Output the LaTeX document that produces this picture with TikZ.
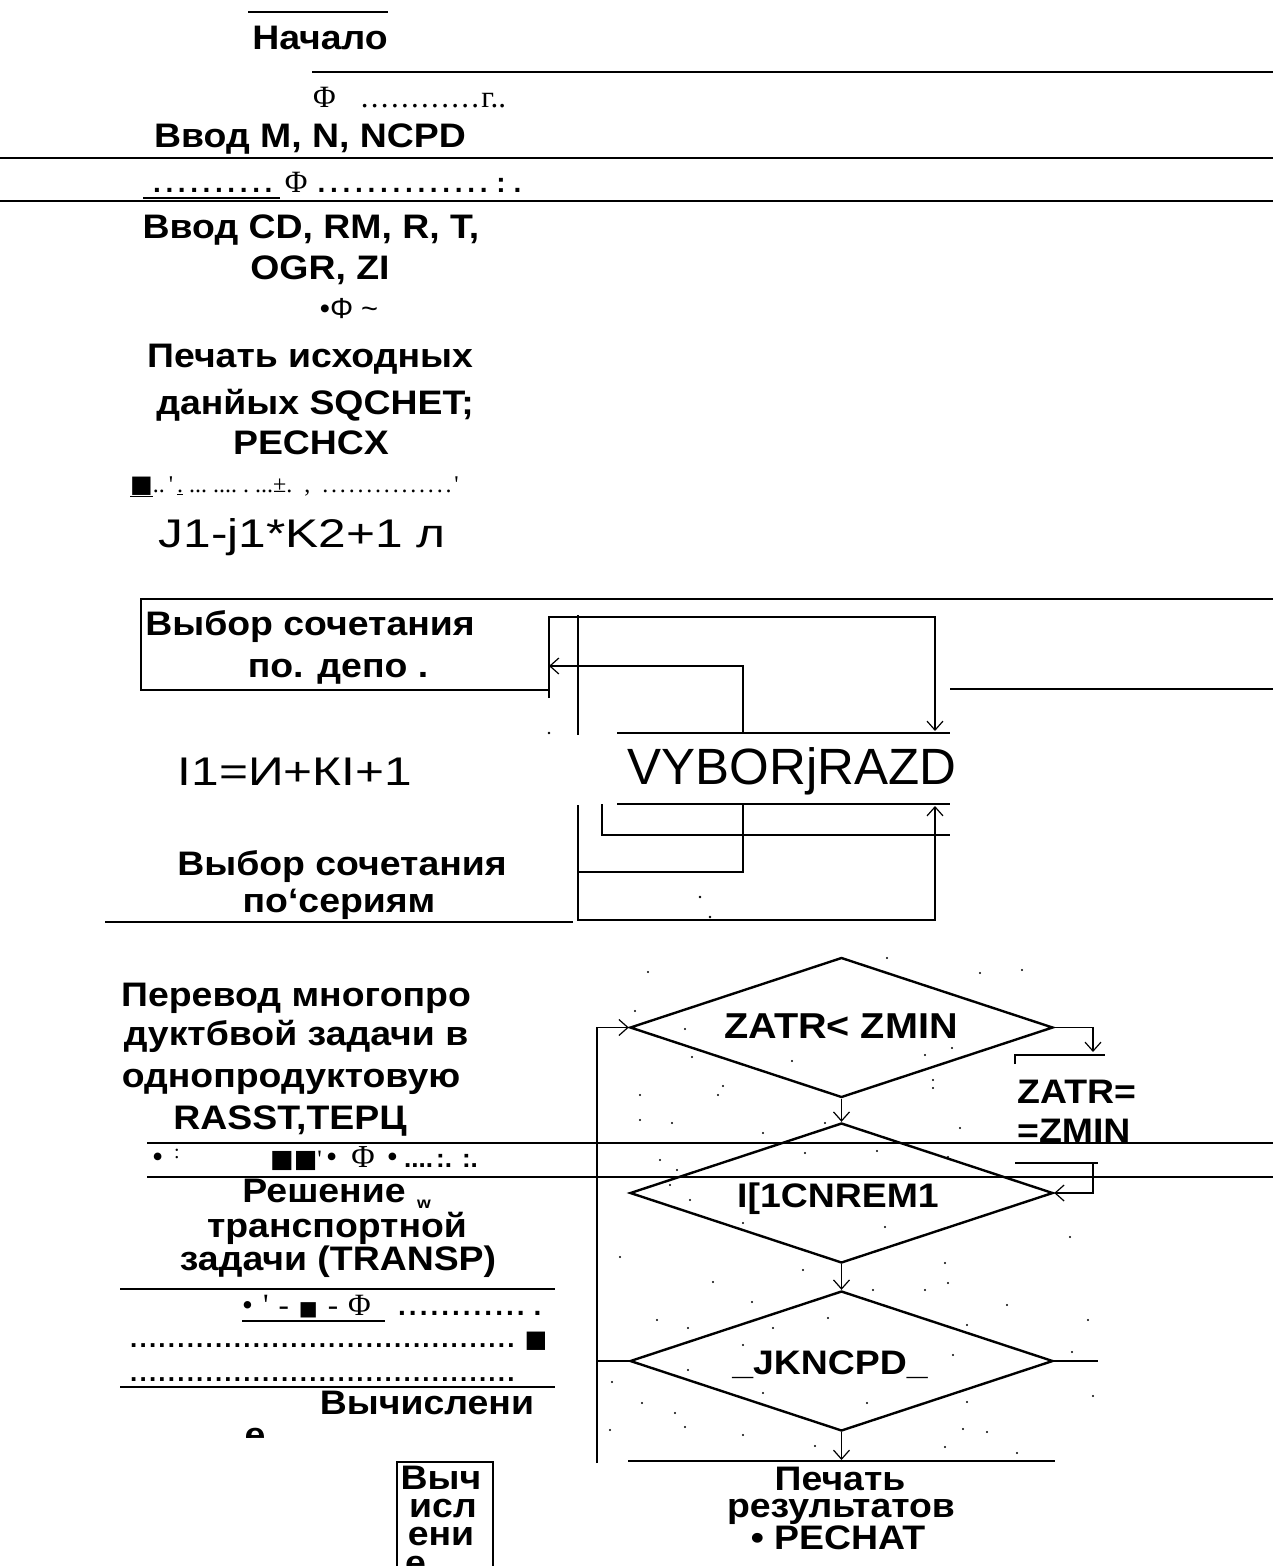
\documentclass[tikz,border=0pt]{standalone}
\usepackage{fontspec}
\setmainfont{Liberation Sans}
\newfontfamily\FntB[FakeStretch=1.1]{Liberation Sans}
\newfontfamily\FntR[FakeStretch=1.24]{Liberation Sans}
\newfontfamily\FntN{Liberation Sans}
\newfontfamily\FntS{Liberation Serif}
\newfontfamily\FntD{DejaVu Sans}
\usetikzlibrary{arrows.meta,shapes.geometric}
\newcommand\Fsz[1]{\fontsize{#1}{#1}\selectfont}
\ExplSyntaxOn
\NewDocumentCommand\DT{mm}{\prg_replicate:nn{#1}{.\kern#2}}
\ExplSyntaxOff
\newcommand\SQ{{\FntD ■}}
\tikzset{
  bt/.style={anchor=base,inner sep=0pt,font=\FntB\bfseries\Fsz{#1},yshift={-0.358*#1}},
  bt/.default=34,
  rt/.style={anchor=base,inner sep=0pt,font=\FntR\Fsz{#1},yshift={-0.358*#1}},
  nt/.style={anchor=base,inner sep=0pt,font=\FntN\Fsz{#1},yshift={-0.358*#1}},
  lt/.style={anchor=base west,inner sep=0pt,font=\FntN\bfseries\Fsz{#1}},
  st/.style={anchor=base west,inner sep=0pt,font=\FntS\Fsz{#1}},
  ln/.style={line width=2.6pt},
  bx/.style={line width=2pt},
  sl/.style={line width=1.3pt},
  arr/.style={sl,-{Straight Barb[length=9pt,width=16pt,line width=1.2pt]}},
  dia/.style={diamond,draw,line width=2.4pt,inner sep=0pt,minimum width=423pt,minimum height=140pt}
}
\begin{document}
\begin{tikzpicture}[x=1pt,y=-1pt]
\fill[white] (0,0) rectangle (1273,1566);
\useasboundingbox (0,0) rectangle (1273,1566);

% ---------- top part ----------
\draw[ln] (248,12) -- (388,12);
\node[bt] (nach) at (320,37) {Начало};
\draw[ln] (312,72) -- (1273,72);
\node[st=31] (f1) at (313,107) {Φ\hspace{25pt}\DT{12}{2.3pt}г..};
\node[bt] (vv1) at (310,135) {Ввод M, N, NCPD};
\draw[ln] (0,158) -- (1273,158);
\node[lt=28] (f2) at (153,192) {\DT{10}{4.6pt}\hspace{8pt}{\FntS\mdseries\Fsz{31}Φ}\hspace{10pt}\DT{14}{4.7pt}\hspace{4pt}:\hspace{8pt}.};
\draw[ln] (143,198) -- (280,198);
\draw[ln] (0,201) -- (1273,201);
\node[bt] (vv2) at (311,226) {Ввод CD, RM, R, T,};
\node[bt] (vv3) at (320,267) {OGR, ZI};
\node[nt=29] (f3) at (349,308) {•Φ {\char"7E}};
\node[bt] (pc1) at (310,355) {Печать исходных};
\node[bt] (pc2) at (315,402) {данйых SQCHET;};
\node[bt] (pc3) at (311,442) {PECHCX};
\node[st=24] (f4) at (130,492) {\underline{\SQ}..\,'\,\underline{.}\ ...\ ....\ .\ ...±.\ \ ,\ \ \DT{15}{2.8pt}'};
\node[rt=40] (jj) at (302,533) {J1-j1*K2+1 л};

% ---------- box "po depo" ----------
\draw[bx] (1273,599) -- (141,599) -- (141,690) -- (549,690);
\node[bt] (vb1) at (310,623) {Выбор сочетания};
\node[bt] (vb2) at (338,665.5) {по. депо .};
\draw[ln] (950,689) -- (1273,689);

% ---------- scanned VYBOR block ----------
\draw[arr] (549,698) -- (549,617) -- (935,617) -- (935,731);
\fill (549,733) circle (1.3);
\draw[arr] (743,733) -- (743,666) -- (549,666);
\draw[sl] (578,615) -- (578,735);
\draw[arr] (578,805) -- (578,920) -- (935,920) -- (935,806);
\draw[sl] (602,804) -- (602,835) -- (950,835);
\draw[sl] (743,804) -- (743,872) -- (578,872);
\draw[ln] (617,733) -- (950,733);
\draw[sl] (617,804) -- (950,804);
\node[nt=51] (vyb) at (792,766.5) {VYBORjRAZD};
\fill (700,897) circle (1.3);
\fill (710,917) circle (1.3);

\node[rt=40] (ii) at (295,771.5) {I1=И+КI+1};
\node[bt] (vs1) at (342,863) {Выбор сочетания};
\node[bt] (vs2) at (339,900.5) {по‘сериям};
\draw[ln] (105,922) -- (573,922);

% ---------- left lower block ----------
\node[bt] (pr1) at (296,994) {Перевод многопро};
\node[bt] (pr2) at (296,1033.5) {дуктбвой задачи в};
\node[bt] (pr3) at (291,1075.5) {однопродуктовую};
\node[bt] (pr4) at (290,1117.5) {RASST,ТЕРЦ};
\draw[ln] (147,1143) -- (1273,1143);
\node[st=32] (g1) at (152,1167) {•};
\node[st=20] (g2) at (174,1158) {:};
\node[st=25] (g3) at (270,1167) {\SQ\SQ'};
\node[st=32] (g4) at (326,1167) {•\hspace{14pt}Φ\hspace{12pt}•};
\node[lt=26] (g5) at (404,1167) {....\hspace{3pt}:.\hspace{10pt}:.};
\draw[ln] (147,1177) -- (1273,1177);
\node[bt] (rs1) at (324,1190.5) {Решение};
\node[anchor=base west,inner sep=0pt,font=\FntB\bfseries\Fsz{16}] (rsw) at (417,1208) {w};
\node[bt] (rs2) at (337,1225.5) {транспортной};
\node[bt] (rs3) at (338,1258.5) {задачи (TRANSP)};
\draw[ln] (120,1289) -- (555,1289);
\node[st=31] (h1) at (242,1315) {•\hspace{10pt}'\hspace{10pt}-\hspace{10pt}{\FntD\Fsz{20}■}\hspace{10pt}-\hspace{10pt}Φ};
\draw[bx] (242,1321) -- (385,1321);
\node[lt=28] (h2) at (398,1315) {\DT{12}{3pt}\hspace{6pt}.};
\node[lt=26] (k1) at (130,1347) {\DT{41}{2.2pt}\hspace{8pt}{\FntD\Fsz{24}■}};
\node[lt=26] (k2) at (130,1381) {\DT{41}{2.2pt}};
\draw[ln] (120,1387) -- (555,1387);
\node[bt] (vc) at (427,1402) {Вычислени};
\begin{scope}
  \clip (220,1420) rectangle (300,1437);
  \node[bt] (vce) at (255,1434) {е};
\end{scope}
\draw[bx] (397,1570) -- (397,1462) -- (493,1462) -- (493,1570);
\node[bt] (bx1) at (441,1477) {Выч};
\node[bt] (bx2) at (443,1505.5) {исл};
\node[bt] (bx3) at (441,1533.5) {ени};
\begin{scope}
  \clip (397,1462) rectangle (493,1566);
  \node[anchor=base west,inner sep=0pt,font=\FntB\bfseries\Fsz{34}] (bx4) at (405,1574) {е};
\end{scope}

% ---------- diamonds ----------
\node[dia] (d1) at (841.5,1027.5) {};
\node[dia] (d2) at (841.5,1193) {};
\node[dia] (d3) at (841.5,1361) {};
\node[bt=36] (t1) at (841,1026) {ZATR< ZMIN};
\node[bt] (t2) at (838,1195) {I[1CNREM1};
\node[bt] (t3) at (830,1362) {\_JKNCPD\_};
\node[anchor=base west,inner sep=0pt,font=\FntB\bfseries\Fsz{34}] (z1) at (1017,1103) {ZATR=};
\node[anchor=base west,inner sep=0pt,font=\FntB\bfseries\Fsz{34}] (z2) at (1017,1142) {=ZMIN};

\coordinate (lb) at (597,1463);
\draw[arr] (lb) |- (d1.west);
\draw[sl] (d3.west) -- (lb |- d3.west);
\coordinate (r3) at (1098,1361);
\draw[sl] (d3.east) -- (r3);
\coordinate (ra) at (1093,1052);
\draw[arr] (d1.east) -| (ra);
\draw[ln] (1015,1064) -- (1015,1055) -- (1105,1055);
\draw[ln] (1015,1163) -- (1098,1163);
\coordinate (rb) at (1093,1163);
\draw[arr] (rb) |- (d2.east);
\draw[arr] (d1.south) -- (d2.north);
\draw[arr] (d2.south) -- (d3.north);
\coordinate (pb) at (841.5,1460);
\draw[arr] (d3.south) -- (pb);
\draw[ln] (628,1461) -- (1055,1461);
\node[bt] (pt1) at (840,1478) {Печать};
\node[bt] (pt2) at (841,1505.5) {результатов};
\node[bt] (pt3) at (838,1537) {• PECHAT};

% ---------- scan noise ----------
\foreach \x/\y in {648/972,887/958,980/973,1022/970,635/1011,685/1029,692/1057,792/1061,925/1055,952/1048,723/1086,718/1095,640/1095,933/1080,933/1088,825/1123,672/1123,640/1120,763/1133,960/1128,877/1151,805/1153,660/1160,677/1170,948/1157,690/1200,670/1185,620/1257,743/1223,885/1227,1070/1237,803/1270,713/1282,945/1263,948/1283,873/1290,925/1290,752/1302,1007/1305,657/1320,688/1328,773/1328,828/1318,1088/1320,967/1325,743/1345,953/1355,1072/1352,612/1382,688/1370,763/1393,867/1403,967/1402,642/1403,1093/1396,675/1413,610/1430,685/1427,743/1435,963/1429,987/1432,945/1447,1017/1453,815/1446}
  \fill (\x,\y) circle (1.2);
\end{tikzpicture}
\end{document}
